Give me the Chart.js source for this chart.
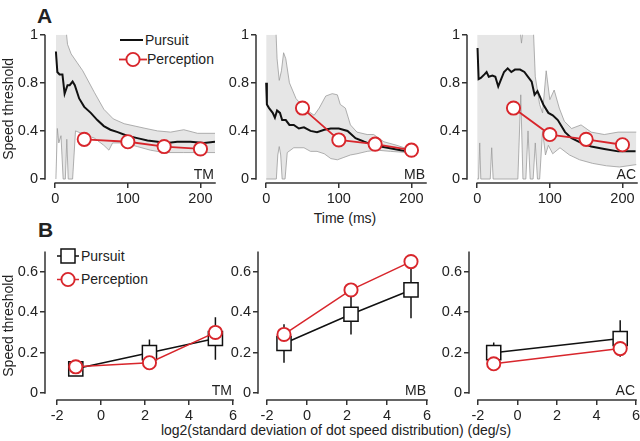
<!DOCTYPE html>
<html>
<head>
<meta charset="utf-8">
<script src="https://cdn.jsdelivr.net/npm/chart.js@4.4.0/dist/chart.umd.min.js"></script>
<style>
  body { margin: 0; background: #fff; overflow: hidden; }
  #fig { position: relative; width: 640px; height: 441px; overflow: hidden;
         font-family: "Liberation Sans", Arial, Helvetica, sans-serif; color: #222; }
  #fig canvas { position: absolute; }
  .txt { position: absolute; white-space: nowrap; font-size: 14px; line-height: 16px; }
  .letter { position: absolute; font-weight: bold; font-size: 21px; line-height: 1; }
  .ico { position: absolute; }
</style>
</head>
<body>
<div id="fig">
  <div class="letter" style="left:37px;top:5px">A</div>
  <div class="letter" style="left:38px;top:219px">B</div>

  <svg class="ico" style="left:120px;top:34px" width="24" height="12"><line x1="0" y1="6" x2="23" y2="6" stroke="#111" stroke-width="2"/></svg>
  <div class="txt" style="left:145px;top:32px">Pursuit</div>
  <svg class="ico" style="left:119px;top:51px" width="28" height="17"><line x1="0" y1="8.5" x2="28" y2="8.5" stroke="#d8262c" stroke-width="1.8"/><circle cx="14" cy="8.5" r="6.6" fill="#fff" stroke="#d8262c" stroke-width="1.9"/></svg>
  <div class="txt" style="left:147px;top:51px">Perception</div>

  <svg class="ico" style="left:57px;top:248px" width="22" height="16"><line x1="0" y1="8" x2="22" y2="8" stroke="#111" stroke-width="1.5"/><rect x="4" y="1" width="14" height="14" fill="#fff" stroke="#111" stroke-width="1.5"/></svg>
  <div class="txt" style="left:81px;top:248px">Pursuit</div>
  <svg class="ico" style="left:57px;top:271px" width="22" height="17"><line x1="0" y1="8.5" x2="22" y2="8.5" stroke="#d8262c" stroke-width="1.5"/><circle cx="11" cy="8.5" r="6.6" fill="#fff" stroke="#d8262c" stroke-width="1.9"/></svg>
  <div class="txt" style="left:81px;top:271px">Perception</div>

  <div class="txt" style="left:345px;top:210px;transform:translateX(-50%)">Time (ms)</div>
  <div class="txt" style="left:336px;top:422px;transform:translateX(-50%)">log2(standard deviation of dot speed distribution) (deg/s)</div>
</div>
<script>
// ---- panel A: speed threshold over time (ms) ----
const timeTicks = [0, 100, 200];
const threshTicks = [0, 0.4, 0.8, 1.2];
const threshLabels = ['0', '0.4', '0.8', '1'];

const tmPursuit = [[1,1.06],[3,0.89],[6,0.87],[10,0.87],[13,0.71],[17,0.78],[20,0.78],[24,0.81],[27,0.78],[33,0.67],[40,0.60],[49,0.55],[58,0.49],[67,0.44],[76,0.41],[86,0.39],[99,0.36],[113,0.34],[127,0.32],[141,0.31],[154,0.30],[168,0.31],[186,0.31],[205,0.30],[220,0.31]];
const tmUpper = [[1,1.3],[14,1.3],[17,1.12],[22,1.04],[30,0.97],[38,0.90],[54,0.72],[67,0.58],[80,0.50],[95,0.46],[110,0.44],[125,0.42],[141,0.40],[159,0.39],[177,0.41],[196,0.38],[220,0.38]];
const tmLower = [[1,0],[3,0.42],[5,0.30],[8,0.36],[11,0],[14,0],[16,0.33],[18,0],[24,0],[28,0.40],[40,0.37],[54,0.34],[67,0.28],[74,0.24],[79,0.30],[95,0.30],[113,0.27],[131,0.24],[150,0.22],[177,0.22],[200,0.22],[220,0.22]];
const tmPerception = [[40,0.33],[100,0.31],[150,0.27],[200,0.25]];

const mbPursuit = [[0,0.80],[1,0.62],[4,0.59],[9,0.55],[12,0.51],[15,0.57],[19,0.55],[22,0.49],[27,0.49],[32,0.45],[38,0.45],[45,0.42],[52,0.43],[61,0.40],[70,0.39],[80,0.41],[89,0.42],[100,0.42],[112,0.40],[123,0.34],[135,0.31],[148,0.28],[167,0.26],[185,0.24],[195,0.23]];
const mbUpper = [[0,1.3],[13,1.3],[15,1.0],[18,0.82],[21,0.90],[24,1.05],[27,1.0],[32,0.80],[41,0.67],[52,0.59],[59,0.56],[66,0.53],[73,0.59],[82,0.69],[91,0.71],[98,0.70],[102,0.62],[109,0.59],[116,0.45],[125,0.39],[139,0.37],[148,0.37],[162,0.31],[180,0.28],[195,0.25]];
const mbLower = [[0,0],[14,0],[16,0.20],[18,0.27],[20,0.20],[22,0],[26,0],[29,0.22],[38,0.26],[52,0.26],[61,0.23],[70,0.23],[80,0.21],[89,0.17],[98,0.16],[107,0.18],[116,0.20],[125,0.21],[139,0.23],[153,0.24],[171,0.23],[195,0.22]];
const mbPerception = [[50,0.59],[100,0.325],[150,0.29],[200,0.24]];

const acPursuit = [[0.5,1.09],[2,0.83],[5,0.84],[10,0.87],[13,0.89],[16,0.85],[21,0.86],[25,0.85],[29,0.77],[33,0.83],[37,0.89],[42,0.92],[47,0.89],[52,0.91],[59,0.91],[65,0.89],[70,0.85],[75,0.81],[79,0.70],[83,0.73],[86,0.69],[91,0.62],[98,0.55],[104,0.53],[111,0.49],[121,0.39],[130,0.34],[143,0.30],[157,0.27],[175,0.25],[194,0.23],[218,0.23]];
const acUpper = [[0,1.3],[58,1.3],[61,1.13],[64,1.3],[77,1.3],[80,0.85],[86,0.62],[90,0.55],[95,0.90],[100,0.66],[106,0.74],[113,0.59],[120,0.48],[130,0.42],[143,0.45],[157,0.39],[175,0.37],[194,0.39],[219,0.39]];
const acLower = [[0,0],[2,0],[3.5,0.30],[5,0],[18,0],[20,0.26],[22,0],[56,0],[60,0.70],[63,0],[67,0],[70,0.40],[73,0],[77,0],[80,0.30],[83,0],[86,0],[90,0.40],[94,0.20],[98,0.28],[104,0.21],[114,0.26],[127,0.20],[141,0.16],[159,0.13],[178,0.11],[196,0.10],[219,0.12]];
const acPerception = [[50,0.59],[100,0.37],[150,0.33],[200,0.285]];

// ---- panel B: threshold vs log2 SD of dot speed ----
const sdTicks = [-2, 0, 2, 4, 6];
const bThreshTicks = [0, 0.2, 0.4, 0.6];
const sdX = [-1.15, 2.2, 5.2];
const sdXac = [-1.2, 5.2];

const tmPursuitB = [0.12, 0.20, 0.27];
const tmPursuitErr = [0.02, 0.065, 0.105];
const tmPerceptionB = [0.13, 0.15, 0.30];

const mbPursuitB = [0.245, 0.39, 0.51];
const mbPursuitErr = [0.095, 0.10, 0.14];
const mbPerceptionB = [0.29, 0.51, 0.65];

const acPursuitB = [0.20, 0.27];
const acPursuitErr = [0.05, 0.09];
const acPerceptionB = [0.145, 0.22];

const RED = '#d8262c', INK = '#111', AXIS = '#333', BAND = '#9c9c9c', BANDFILL = '#e6e6e6';
const FONT = '"Liberation Sans", Arial, Helvetica, sans-serif';
Chart.defaults.font.family = FONT;
Chart.defaults.font.size = 14.5;
Chart.defaults.color = '#222';

const Y_W = 45, X_H = 28, PAD_T = 10, PAD_R = 12;
const fig = document.getElementById('fig');

const pts = a => a.map(([x, y]) => ({x, y}));
const zip = (xs, ys) => xs.map((x, i) => ({x, y: ys[i]}));
function errBars(xs, ys, es) {
  const out = [];
  xs.forEach((x, i) => { out.push({x, y: ys[i] - es[i]}, {x, y: ys[i] + es[i]}, {x, y: null}); });
  return out;
}

function bandSets(upper, lower, pursuit, perception) {
  return [
    {data: pts(upper), borderColor: BAND, borderWidth: 0.8, pointRadius: 0, fill: '+1', backgroundColor: BANDFILL, order: 3},
    {data: pts(lower), borderColor: BAND, borderWidth: 0.8, pointRadius: 0, fill: false, order: 2},
    {data: pts(pursuit), borderColor: INK, borderWidth: 2, pointRadius: 0, fill: false, order: 1},
    {data: pts(perception), borderColor: RED, borderWidth: 1.8, pointRadius: 6.6, pointBorderWidth: 1.9,
     pointBackgroundColor: '#fff', pointBorderColor: RED, fill: false, order: 0}
  ];
}

function pointSets(xs, pursuit, err, perception) {
  return [
    {data: errBars(xs, pursuit, err), borderColor: INK, borderWidth: 1.5, pointRadius: 0, spanGaps: false, fill: false, order: 3},
    {data: zip(xs, pursuit), borderColor: INK, borderWidth: 1.5, pointStyle: 'rect', pointRadius: 10, pointBorderWidth: 1.5,
     pointBackgroundColor: '#fff', pointBorderColor: INK, fill: false, order: 2},
    {data: zip(xs, perception), borderColor: RED, borderWidth: 1.5, pointRadius: 6.6, pointBorderWidth: 1.9,
     pointBackgroundColor: '#fff', pointBorderColor: RED, fill: false, order: 1}
  ];
}

function panel(o) {
  const c = document.createElement('canvas');
  const W = Y_W + o.w + PAD_R, H = PAD_T + o.h + X_H;
  c.width = W; c.height = H;
  c.style.left = (o.left - Y_W) + 'px';
  c.style.top = (o.top - PAD_T) + 'px';
  c.style.width = W + 'px'; c.style.height = H + 'px';
  fig.appendChild(c);

  // detached axis lines + subject tag
  const spines = {
    id: 'spines',
    afterDraw(chart) {
      const {ctx, chartArea: a, scales: {x, y}} = chart;
      ctx.save();
      ctx.strokeStyle = AXIS; ctx.lineWidth = 1.5;
      ctx.beginPath();
      ctx.moveTo(a.left, a.top); ctx.lineTo(a.left, y.getPixelForValue(0) + 0.75);
      ctx.moveTo(x.getPixelForValue(o.xTicks[0]) - 0.75, a.bottom); ctx.lineTo(a.right + 0.75, a.bottom);
      ctx.stroke();
      ctx.fillStyle = '#222';
      ctx.font = '14px ' + FONT;
      ctx.textAlign = 'right'; ctx.textBaseline = 'alphabetic';
      ctx.fillText(o.tag, a.right - 1, a.bottom - o.tagLift);
      ctx.restore();
    }
  };

  new Chart(c, {
    type: 'line',
    data: {datasets: o.datasets},
    options: {
      responsive: false, animation: false, devicePixelRatio: 1,
      layout: {padding: {top: PAD_T, right: PAD_R, left: 0, bottom: 0}},
      plugins: {legend: {display: false}, tooltip: {enabled: false}},
      scales: {
        x: {
          type: 'linear', min: o.xMin, max: o.xMax,
          afterFit: s => { s.height = X_H; },
          afterBuildTicks: s => { s.ticks = o.xTicks.map(v => ({value: v})); },
          grid: {drawOnChartArea: false, tickLength: 5, color: AXIS, lineWidth: 1.5},
          border: {display: false},
          ticks: {padding: 2, maxRotation: 0, autoSkip: false, callback: v => String(v)}
        },
        y: {
          type: 'linear', min: o.yMin, max: o.yMax,
          afterFit: s => { s.width = Y_W; },
          afterBuildTicks: s => { s.ticks = o.yTicks.map(v => ({value: v})); },
          grid: {drawOnChartArea: false, tickLength: 5, color: AXIS, lineWidth: 1.5},
          border: {display: false},
          ticks: {padding: 2, autoSkip: false, callback: (v, i) => o.yLabels[i]},
          title: {display: !!o.yTitle, text: o.yTitle || '', font: {size: 14}, padding: {top: 1, bottom: 0}}
        }
      }
    },
    plugins: [spines]
  });
}

const A = {top: 34, h: 149, w: 170, xMin: -14, xMax: 220, yMin: -0.033, yMax: 1.2,
           xTicks: timeTicks, yTicks: threshTicks, yLabels: threshLabels, tagLift: 4};
panel({...A, left: 45, tag: 'TM', yTitle: 'Speed threshold', datasets: bandSets(tmUpper, tmLower, tmPursuit, tmPerception)});
panel({...A, left: 256, tag: 'MB', datasets: bandSets(mbUpper, mbLower, mbPursuit, mbPerception)});
panel({...A, left: 467, tag: 'AC', datasets: bandSets(acUpper, acLower, acPursuit, acPerception)});

const bLabels = bThreshTicks.map(String);
const B = {top: 250, h: 150, xMax: 6, yMin: -0.034, yMax: 0.7,
           xTicks: sdTicks, yTicks: bThreshTicks, yLabels: bLabels, tagLift: 5};
panel({...B, left: 45, w: 188, xMin: -2.55, tag: 'TM', yTitle: 'Speed threshold', datasets: pointSets(sdX, tmPursuitB, tmPursuitErr, tmPerceptionB)});
panel({...B, left: 258, w: 169, xMin: -2.45, tag: 'MB', datasets: pointSets(sdX, mbPursuitB, mbPursuitErr, mbPerceptionB)});
panel({...B, left: 469, w: 167, xMin: -2.45, tag: 'AC', datasets: pointSets(sdXac, acPursuitB, acPursuitErr, acPerceptionB)});
</script>
</body>
</html>
